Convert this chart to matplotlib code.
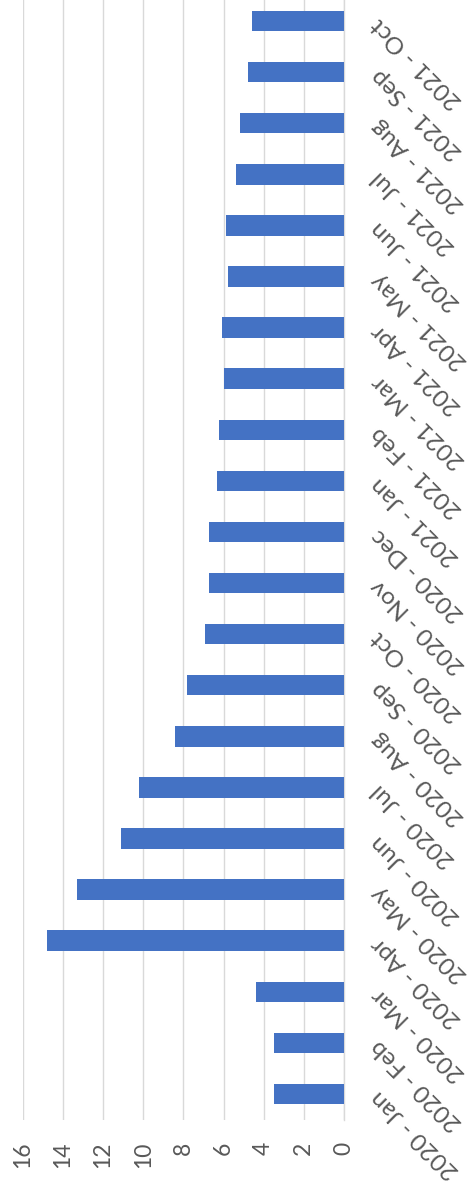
import matplotlib
matplotlib.use("Agg")
import matplotlib.pyplot as plt
import matplotlib.transforms as mtransforms

categories = ["2020 - Jan", "2020 - Feb", "2020 - Mar", "2020 - Apr", "2020 - May",
              "2020 - Jun", "2020 - Jul", "2020 - Aug", "2020 - Sep", "2020 - Oct",
              "2020 - Nov", "2020 - Dec", "2021 - Jan", "2021 - Feb", "2021 - Mar",
              "2021 - Apr", "2021 - May", "2021 - Jun", "2021 - Jul", "2021 - Aug",
              "2021 - Sep", "2021 - Oct"]
values = [3.5, 3.5, 4.4, 14.8, 13.3, 11.1, 10.2, 8.4, 7.8, 6.9,
          6.7, 6.7, 6.3, 6.2, 6.0, 6.1, 5.8, 5.9, 5.4, 5.2, 4.8, 4.6]
ticks = [0, 2, 4, 6, 8, 10, 12, 14, 16]

plt.rcParams['font.family'] = ['Lato', 'DejaVu Sans']
W, H = 472, 1192
fig = plt.figure(figsize=(W / 100, H / 100), dpi=100)
left_px, right_px = 22.7, 344.0
top_px, bot_px = -4.5, 1119.5
ax = fig.add_axes([left_px / W, 1 - bot_px / H, (right_px - left_px) / W, (bot_px - top_px) / H])

y = list(range(len(categories)))
ax.barh(y, values, height=0.4, color="#4472C4", zorder=3)
ax.set_xlim(16, 0)
ax.set_ylim(-0.5, len(categories) - 0.5)
ax.set_xticks(ticks)
ax.set_xticklabels([str(t) for t in ticks], rotation=90, va='top', ha='center')
ax.tick_params(axis='x', length=0, pad=16, labelsize=16.5, labelcolor="#595959")
ax.set_yticks([])
ax.grid(axis='x', color="#D9D9D9", linewidth=1.0, zorder=0)
for s in ['top', 'bottom', 'left']:
    ax.spines[s].set_visible(False)
ax.spines['right'].set_color("#D9D9D9")
ax.spines['right'].set_linewidth(1.0)

trans = mtransforms.blended_transform_factory(ax.transAxes, ax.transData) + \
    mtransforms.ScaledTranslation(31 / 100, 0, fig.dpi_scale_trans)
for yi, lab in zip(y, categories):
    ax.text(1.0, yi, lab, transform=trans, rotation=135, rotation_mode='anchor',
            ha='right', va='center', fontsize=17.5, color="#595959")

fig.savefig("out.png", dpi=100)
